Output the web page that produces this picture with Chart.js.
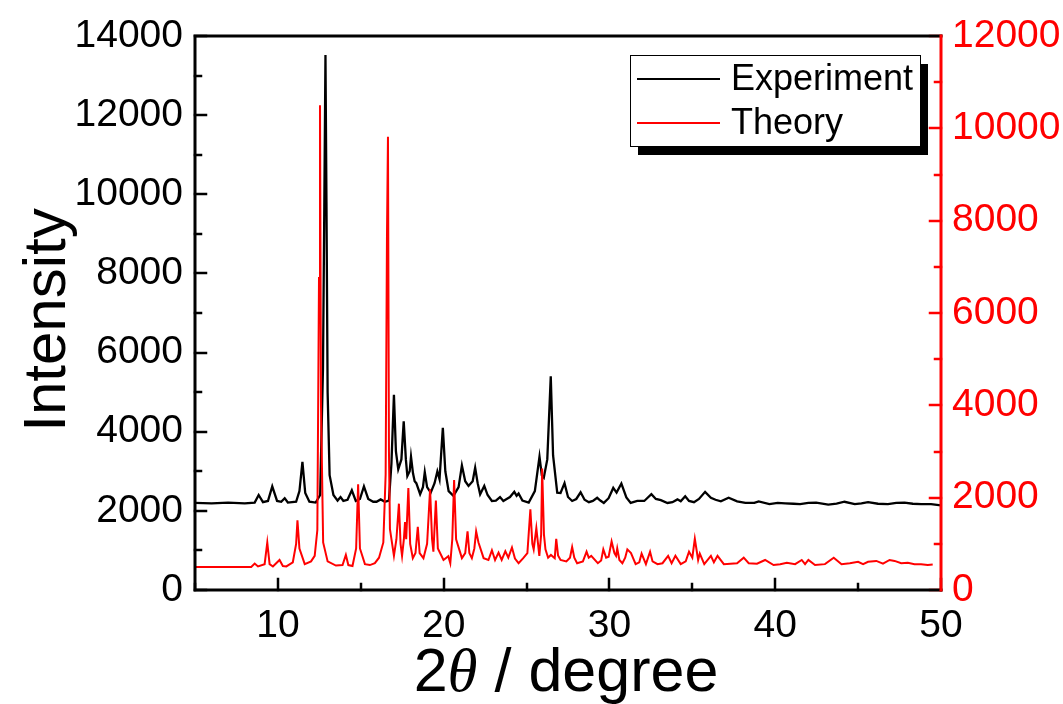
<!DOCTYPE html>
<html>
<head>
<meta charset="utf-8">
<script src="https://cdn.jsdelivr.net/npm/chart.js@4/dist/chart.umd.min.js"></script>
<style>
  html, body { margin: 0; padding: 0; background: #fff; }
  #wrap { width: 1063px; height: 704px; }
</style>
</head>
<body>
<div id="wrap"><canvas id="xrd" width="1063" height="704"></canvas></div>
<script>
// Experimental pattern (2theta, counts) - left axis
const expAngle = [5.0, 6.0, 7.0, 8.0, 8.6, 8.84, 9.1, 9.4, 9.66, 9.95, 10.2, 10.41, 10.6, 11.1, 11.3, 11.48, 11.65, 11.9, 12.28, 12.55,
  12.72, 12.8, 12.87, 12.93, 13.0, 13.12, 13.35, 13.6, 13.78, 13.95, 14.2, 14.46, 14.7, 14.95, 15.19, 15.45, 15.75, 15.95, 16.2, 16.45,
  16.7, 16.85, 17.0, 17.12, 17.26, 17.45, 17.59, 17.72, 17.81, 17.95, 18.03, 18.15, 18.25, 18.35, 18.58, 18.75, 18.86, 19.0, 19.22, 19.45,
  19.62, 19.75, 19.95, 20.1, 20.3, 20.59, 20.9, 21.1, 21.3, 21.5, 21.75, 21.9, 22.05, 22.2, 22.45, 22.65, 22.91, 23.15, 23.4, 23.6,
  23.8, 24.0, 24.26, 24.4, 24.52, 24.75, 25.13, 25.5, 25.78, 25.92, 26.04, 26.25, 26.46, 26.6, 26.85, 27.05, 27.29, 27.5, 27.75, 28.0,
  28.26, 28.5, 28.76, 29.0, 29.26, 29.45, 29.66, 29.95, 30.23, 30.43, 30.72, 31.02, 31.28, 31.68, 32.1, 32.53, 32.8, 33.1, 33.5, 33.8,
  34.1, 34.3, 34.57, 34.8, 35.1, 35.4, 35.77, 36.12, 36.4, 36.72, 37.19, 37.7, 38.2, 38.74, 39.0, 39.65, 40.15, 40.6, 41.1, 41.5,
  42.0, 42.47, 43.2, 43.7, 44.18, 44.8, 45.2, 45.6, 46.2, 46.8, 47.3, 47.8, 48.3, 48.8, 49.4, 50.0];
const expCounts = [2200, 2190, 2210, 2190, 2210, 2400, 2220, 2250, 2620, 2250, 2230, 2320, 2210, 2230, 2500, 3240, 2450, 2230, 2210, 2400,
  5600, 9700, 13520, 9800, 5000, 2900, 2400, 2260, 2350, 2250, 2280, 2520, 2250, 2300, 2620, 2300, 2230, 2230, 2290, 2230,
  2260, 3200, 4930, 3500, 3050, 3300, 4260, 3300, 2880, 3000, 3370, 2950, 2750, 2700, 2420, 2600, 2980, 2600, 2460, 2700,
  3000, 2800, 4100, 3000, 2500, 2380, 2600, 3150, 2750, 2630, 2750, 3090, 2700, 2420, 2630, 2400, 2250, 2260, 2350, 2250,
  2300, 2350, 2480, 2380, 2440, 2260, 2210, 2500, 3370, 2900, 2840, 3300, 5400, 3400, 2460, 2450, 2700, 2350, 2250, 2300,
  2470, 2280, 2220, 2250, 2330, 2260, 2200, 2320, 2580, 2460, 2690, 2340, 2200, 2250, 2250, 2420, 2300, 2270, 2200, 2220,
  2290, 2240, 2370, 2250, 2220, 2300, 2480, 2330, 2280, 2240, 2330, 2240, 2200, 2200, 2240, 2170, 2200, 2190, 2180, 2170,
  2200, 2210, 2160, 2180, 2230, 2170, 2190, 2220, 2180, 2170, 2200, 2210, 2180, 2170, 2170, 2140];

// Simulated pattern - right axis
const theoAngle = [5.0, 8.39, 8.6, 8.8, 9.2, 9.36, 9.5, 9.7, 10.1, 10.3, 10.51, 10.9, 11.1, 11.18, 11.3, 11.62, 12.0, 12.22, 12.38, 12.48,
  12.54, 12.6, 12.73, 13.0, 13.5, 13.9, 14.1, 14.25, 14.5, 14.72, 14.84, 14.95, 15.25, 15.55, 15.85, 16.1, 16.36, 16.5, 16.58, 16.64,
  16.7, 16.76, 17.0, 17.15, 17.3, 17.4, 17.49, 17.6, 17.67, 17.74, 17.87, 17.98, 18.14, 18.3, 18.44, 18.55, 18.78, 19.0, 19.18, 19.3,
  19.38, 19.53, 19.65, 19.99, 20.28, 20.4, 20.52, 20.63, 20.75, 21.1, 21.3, 21.44, 21.55, 21.7, 21.85, 21.96, 22.1, 22.41, 22.7, 22.91,
  23.1, 23.31, 23.5, 23.72, 23.9, 24.12, 24.3, 24.52, 24.8, 25.05, 25.23, 25.35, 25.43, 25.59, 25.77, 25.88, 25.94, 26.05, 26.14, 26.3,
  26.47, 26.7, 26.79, 26.9, 27.05, 27.4, 27.62, 27.75, 27.88, 28.05, 28.4, 28.62, 28.75, 28.9, 29.3, 29.5, 29.63, 29.8, 29.95, 30.13,
  30.3, 30.4, 30.47, 30.6, 30.78, 30.95, 31.08, 31.3, 31.58, 31.8, 31.94, 32.2, 32.45, 32.6, 32.9, 33.2, 33.54, 33.75, 33.98, 34.3,
  34.6, 34.8, 35.0, 35.15, 35.35, 35.45, 35.72, 36.12, 36.3, 36.52, 36.9, 37.3, 37.7, 38.1, 38.4, 38.9, 39.39, 39.9, 40.3, 40.7,
  41.2, 41.6, 41.8, 42.0, 42.4, 43.0, 43.53, 44.0, 44.5, 45.0, 45.3, 45.6, 46.1, 46.5, 46.9, 47.2, 47.6, 48.0, 48.4, 48.8,
  49.2, 49.5];
const theoCounts = [500, 500, 574, 510, 560, 1030, 560, 510, 650, 520, 510, 600, 1000, 1510, 900, 560, 620, 740, 1300, 6760,
  10500, 4000, 1030, 620, 530, 540, 760, 540, 520, 900, 2290, 900, 560, 540, 580, 700, 1030, 2500, 7650, 9820,
  3000, 1320, 740, 1100, 1870, 1000, 740, 1100, 1470, 1100, 2210, 1000, 690, 800, 1370, 800, 690, 1000, 2180, 1100,
  830, 1940, 900, 650, 730, 580, 1100, 2380, 1100, 690, 800, 1270, 800, 690, 900, 1270, 1030, 690, 650, 860,
  650, 810, 650, 840, 700, 920, 680, 580, 690, 800, 1750, 1000, 880, 1340, 740, 1200, 2630, 1200, 880, 700,
  760, 690, 1110, 750, 650, 620, 700, 930, 700, 580, 620, 830, 700, 740, 580, 640, 880, 700, 720, 1050,
  800, 740, 900, 650, 580, 700, 880, 800, 560, 600, 790, 560, 830, 620, 560, 580, 740, 580, 740, 560,
  620, 830, 700, 1110, 650, 790, 560, 740, 600, 740, 560, 570, 580, 700, 580, 570, 650, 540, 560, 590,
  560, 650, 560, 650, 540, 560, 700, 560, 580, 610, 560, 610, 630, 570, 650, 630, 580, 590, 560, 560,
  540, 550];

const seriesNames = ['Experiment', 'Theory'];
const xTickValues = [10, 20, 30, 40, 50];

const FONT = "Arial, 'Liberation Sans', sans-serif";
const RED = '#ff0000';

function toPoints(xs, ys) {
  return xs.map((x, i) => ({ x: x, y: ys[i] }));
}

// frame, inward ticks, axis titles and the shadowed legend
const decorations = {
  id: 'decorations',
  afterDraw(chart) {
    const ctx = chart.ctx;
    const a = chart.chartArea;
    const sx = chart.scales.x, sy = chart.scales.y, sy1 = chart.scales.y1;
    ctx.save();
    ctx.lineCap = 'square';

    // ticks
    ctx.lineWidth = 2.5;
    ctx.strokeStyle = '#000';
    for (let v = 5; v <= 50; v += 5) {
      const px = Math.round(sx.getPixelForValue(v));
      const len = v % 10 === 0 ? 11 : 6;
      ctx.beginPath(); ctx.moveTo(px, a.bottom); ctx.lineTo(px, a.bottom - len); ctx.stroke();
    }
    for (let v = 0; v <= 14000; v += 1000) {
      const py = Math.round(sy.getPixelForValue(v));
      const len = v % 2000 === 0 ? 11 : 6;
      ctx.beginPath(); ctx.moveTo(a.left, py); ctx.lineTo(a.left + len, py); ctx.stroke();
    }
    ctx.strokeStyle = RED;
    for (let v = 0; v <= 12000; v += 1000) {
      const py = Math.round(sy1.getPixelForValue(v));
      const len = v % 2000 === 0 ? 11 : 6;
      ctx.beginPath(); ctx.moveTo(a.right, py); ctx.lineTo(a.right - len, py); ctx.stroke();
    }

    // frame
    ctx.lineWidth = 3;
    ctx.strokeStyle = '#000';
    ctx.beginPath();
    ctx.moveTo(a.right, a.top); ctx.lineTo(a.left, a.top); ctx.lineTo(a.left, a.bottom); ctx.lineTo(a.right, a.bottom);
    ctx.stroke();
    ctx.strokeStyle = RED;
    ctx.beginPath(); ctx.moveTo(a.right, a.top); ctx.lineTo(a.right, a.bottom); ctx.stroke();

    // y title
    ctx.fillStyle = '#000';
    ctx.font = '60px ' + FONT;
    ctx.textAlign = 'center';
    ctx.textBaseline = 'alphabetic';
    ctx.save();
    ctx.translate(65, (a.top + a.bottom) / 2 + 7);
    ctx.rotate(-Math.PI / 2);
    ctx.fillText('Intensity', 0, 0);
    ctx.restore();

    // x title: 2θ / degree with italic theta
    const parts = [
      { t: '2', f: '61px ' + FONT },
      { t: 'θ', f: 'italic 61px "Liberation Serif", "Times New Roman", serif' },
      { t: ' / degree', f: '61px ' + FONT }
    ];
    let total = 0;
    parts.forEach(p => { ctx.font = p.f; p.w = ctx.measureText(p.t).width; total += p.w; });
    let cx = 566 - total / 2;
    ctx.textAlign = 'left';
    parts.forEach(p => { ctx.font = p.f; ctx.fillText(p.t, cx, 691); cx += p.w; });

    // legend with drop shadow
    const lx = 630, ly = 55, lw = 290, lh = 91;
    ctx.fillStyle = '#000';
    ctx.fillRect(lx + 8, ly + 9, lw, lh);
    ctx.fillStyle = '#fff';
    ctx.fillRect(lx, ly, lw, lh);
    ctx.lineWidth = 1;
    ctx.strokeStyle = '#000';
    ctx.strokeRect(lx + 0.5, ly + 0.5, lw, lh);
    const rows = [{ y: 79, c: '#000' }, { y: 123, c: RED }];
    ctx.font = '36px ' + FONT;
    ctx.textBaseline = 'middle';
    rows.forEach((r, i) => {
      ctx.strokeStyle = r.c;
      ctx.lineWidth = 2;
      ctx.beginPath(); ctx.moveTo(638, r.y); ctx.lineTo(719, r.y); ctx.stroke();
      ctx.fillStyle = '#000';
      ctx.fillText(seriesNames[i], 731, r.y + 1);
    });
    ctx.restore();
  }
};

const plainTick = v => String(v);

new Chart(document.getElementById('xrd'), {
  type: 'line',
  data: {
    datasets: [
      {
        label: seriesNames[0],
        data: toPoints(expAngle, expCounts),
        yAxisID: 'y',
        borderColor: '#000',
        borderWidth: 2.3,
        order: 1
      },
      {
        label: seriesNames[1],
        data: toPoints(theoAngle, theoCounts),
        yAxisID: 'y1',
        borderColor: RED,
        borderWidth: 2,
        order: 0
      }
    ]
  },
  options: {
    responsive: false,
    animation: false,
    events: [],
    layout: { padding: { top: 36, left: 0, right: 0, bottom: 0 } },
    elements: { point: { radius: 0 }, line: { tension: 0 } },
    plugins: { legend: { display: false }, tooltip: { enabled: false } },
    scales: {
      x: {
        type: 'linear',
        min: 5,
        max: 50,
        afterFit: s => { s.height = 114; },
        afterBuildTicks: s => { s.ticks = xTickValues.map(v => ({ value: v })); },
        grid: { display: false, drawTicks: false },
        border: { display: false },
        ticks: { color: '#000', padding: 13, maxRotation: 0, callback: plainTick, font: { family: FONT, size: 39 } }
      },
      y: {
        position: 'left',
        min: 0,
        max: 14000,
        afterFit: s => { s.width = 195; },
        grid: { display: false, drawTicks: false },
        border: { display: false },
        ticks: { stepSize: 2000, color: '#000', padding: 12, callback: plainTick, font: { family: FONT, size: 39 } }
      },
      y1: {
        position: 'right',
        min: 0,
        max: 12000,
        afterFit: s => { s.width = 122; },
        grid: { display: false, drawTicks: false },
        border: { display: false },
        ticks: { stepSize: 2000, color: RED, padding: 11, callback: plainTick, font: { family: FONT, size: 39 } }
      }
    }
  },
  plugins: [decorations]
});
</script>
</body>
</html>
